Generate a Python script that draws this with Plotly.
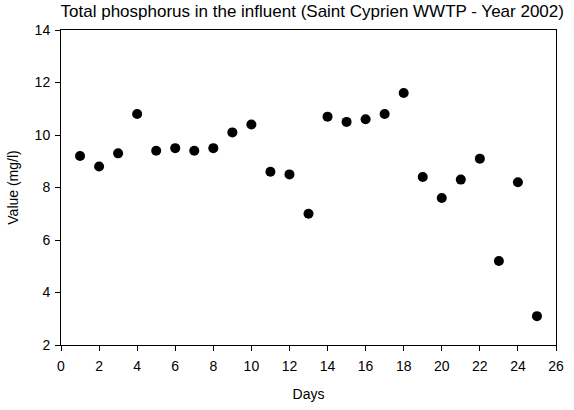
import plotly.graph_objects as go

days = list(range(1, 26))
values = [9.2, 8.8, 9.3, 10.8, 9.4, 9.5, 9.4, 9.5, 10.1, 10.4,
          8.6, 8.5, 7.0, 10.7, 10.5, 10.6, 10.8, 11.6, 8.4, 7.6,
          8.3, 9.1, 5.2, 8.2, 3.1]
x_ticks = list(range(0, 27, 2))
y_ticks = list(range(2, 15, 2))

font = "Liberation Sans, Arial, sans-serif"

fig = go.Figure(go.Scatter(
    x=days, y=values, mode="markers",
    marker=dict(color="black", size=10, line=dict(width=0)),
))

axis_common = dict(
    showgrid=False, zeroline=False, showline=True, linecolor="black", linewidth=1,
    ticks="outside", ticklen=5, tickcolor="black", tickwidth=1, mirror=True,
    tickfont=dict(family=font, size=14, color="black"),
    ticklabeloverflow="allow",
)

fig.update_layout(
    width=574, height=410,
    margin=dict(l=61, r=10, t=30, b=62),
    paper_bgcolor="white", plot_bgcolor="white",
    showlegend=False,
    title=dict(text="Total phosphorus in the influent (Saint Cyprien WWTP - Year 2002)",
               x=0.544, xanchor="center", y=0.988, yanchor="top",
               font=dict(family=font, size=17, color="black")),
    xaxis=dict(range=[0, 26], tickvals=x_ticks, ticklabelstandoff=3,
               title=dict(text="Days", font=dict(family=font, size=14, color="black"), standoff=16),
               **axis_common),
    yaxis=dict(range=[2, 14], tickvals=y_ticks, ticklabelstandoff=2,
               title=dict(text="Value (mg/l)", font=dict(family=font, size=14, color="black"), standoff=12),
               **axis_common),
)

fig.write_html("out.html", config={"displayModeBar": False},
               post_script="document.body.style.margin='0';")
